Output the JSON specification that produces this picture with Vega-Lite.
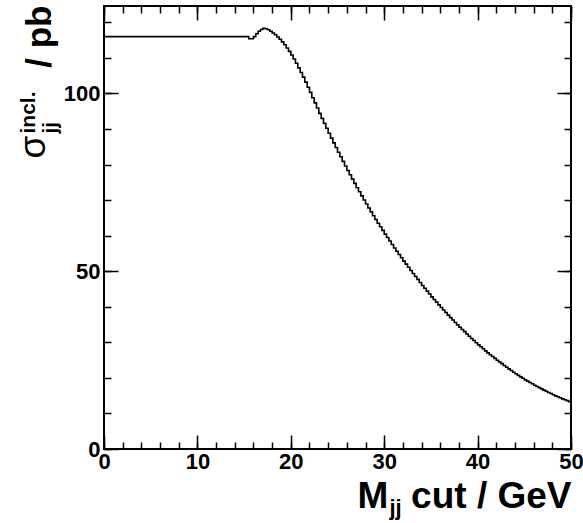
{
  "$schema": "https://vega.github.io/schema/vega-lite/v6.json",
  "width": 467,
  "height": 443,
  "autosize": {"type": "none"},
  "padding": {"left": 104, "top": 6, "right": 12, "bottom": 74},
  "background": "white",
  "config": {
    "view": {"stroke": "black", "strokeWidth": 2},
    "axis": {
      "grid": false,
      "domain": false,
      "tickColor": "black",
      "tickWidth": 1.5,
      "labelFont": "Liberation Sans",
      "labelFontWeight": "bold",
      "labelFontSize": 22,
      "labelColor": "black",
      "titleFont": "Liberation Sans",
      "titleFontWeight": "bold",
      "titleColor": "black",
      "labelFlush": false,
      "labelOverlap": false,
      "labelBound": false
    }
  },
  "data": {
    "values": [
      {"x": 0, "y": 116.0}, {"x": 0.25, "y": 116.0}, {"x": 0.5, "y": 116.0}, {"x": 0.75, "y": 116.0},
      {"x": 1, "y": 116.0}, {"x": 1.25, "y": 116.0}, {"x": 1.5, "y": 116.0}, {"x": 1.75, "y": 116.0},
      {"x": 2, "y": 116.0}, {"x": 2.25, "y": 116.0}, {"x": 2.5, "y": 116.0}, {"x": 2.75, "y": 116.0},
      {"x": 3, "y": 116.0}, {"x": 3.25, "y": 116.0}, {"x": 3.5, "y": 116.0}, {"x": 3.75, "y": 116.0},
      {"x": 4, "y": 116.0}, {"x": 4.25, "y": 116.0}, {"x": 4.5, "y": 116.0}, {"x": 4.75, "y": 116.0},
      {"x": 5, "y": 116.0}, {"x": 5.25, "y": 116.0}, {"x": 5.5, "y": 116.0}, {"x": 5.75, "y": 116.0},
      {"x": 6, "y": 116.0}, {"x": 6.25, "y": 116.0}, {"x": 6.5, "y": 116.0}, {"x": 6.75, "y": 116.0},
      {"x": 7, "y": 116.0}, {"x": 7.25, "y": 116.0}, {"x": 7.5, "y": 116.0}, {"x": 7.75, "y": 116.0},
      {"x": 8, "y": 116.0}, {"x": 8.25, "y": 116.0}, {"x": 8.5, "y": 116.0}, {"x": 8.75, "y": 116.0},
      {"x": 9, "y": 116.0}, {"x": 9.25, "y": 116.0}, {"x": 9.5, "y": 116.0}, {"x": 9.75, "y": 116.0},
      {"x": 10, "y": 116.0}, {"x": 10.25, "y": 116.0}, {"x": 10.5, "y": 116.0}, {"x": 10.75, "y": 116.0},
      {"x": 11, "y": 116.0}, {"x": 11.25, "y": 116.0}, {"x": 11.5, "y": 116.0}, {"x": 11.75, "y": 116.0},
      {"x": 12, "y": 116.0}, {"x": 12.25, "y": 116.0}, {"x": 12.5, "y": 116.0}, {"x": 12.75, "y": 116.0},
      {"x": 13, "y": 116.0}, {"x": 13.25, "y": 116.0}, {"x": 13.5, "y": 116.0}, {"x": 13.75, "y": 116.0},
      {"x": 14, "y": 116.0}, {"x": 14.25, "y": 116.0}, {"x": 14.5, "y": 116.0}, {"x": 14.75, "y": 116.0},
      {"x": 15, "y": 116.0}, {"x": 15.25, "y": 116.0}, {"x": 15.5, "y": 115.4}, {"x": 15.75, "y": 115.4},
      {"x": 16, "y": 116.0}, {"x": 16.25, "y": 116.8}, {"x": 16.5, "y": 117.5}, {"x": 16.75, "y": 118.0},
      {"x": 17, "y": 118.3}, {"x": 17.25, "y": 118.2}, {"x": 17.5, "y": 117.9}, {"x": 17.75, "y": 117.5},
      {"x": 18, "y": 117.0}, {"x": 18.25, "y": 116.5}, {"x": 18.5, "y": 115.9}, {"x": 18.75, "y": 115.25},
      {"x": 19, "y": 114.5}, {"x": 19.25, "y": 113.7}, {"x": 19.5, "y": 112.8}, {"x": 19.75, "y": 111.85},
      {"x": 20, "y": 110.8}, {"x": 20.25, "y": 109.7}, {"x": 20.5, "y": 108.5}, {"x": 20.75, "y": 107.2},
      {"x": 21, "y": 105.9}, {"x": 21.25, "y": 104.6}, {"x": 21.5, "y": 103.2}, {"x": 21.75, "y": 101.75},
      {"x": 22, "y": 100.3}, {"x": 22.25, "y": 98.8}, {"x": 22.5, "y": 97.35}, {"x": 22.75, "y": 95.9},
      {"x": 23, "y": 94.4}, {"x": 23.25, "y": 93.0}, {"x": 23.5, "y": 91.6}, {"x": 23.75, "y": 90.2},
      {"x": 24, "y": 88.8}, {"x": 24.25, "y": 87.45}, {"x": 24.5, "y": 86.1}, {"x": 24.75, "y": 84.8},
      {"x": 25, "y": 83.45}, {"x": 25.25, "y": 82.2}, {"x": 25.5, "y": 80.9}, {"x": 25.75, "y": 79.6},
      {"x": 26, "y": 78.35}, {"x": 26.25, "y": 77.15}, {"x": 26.5, "y": 75.9}, {"x": 26.75, "y": 74.7},
      {"x": 27, "y": 73.5}, {"x": 27.25, "y": 72.35}, {"x": 27.5, "y": 71.2}, {"x": 27.75, "y": 70.05},
      {"x": 28, "y": 68.9}, {"x": 28.25, "y": 67.8}, {"x": 28.5, "y": 66.7}, {"x": 28.75, "y": 65.6},
      {"x": 29, "y": 64.55}, {"x": 29.25, "y": 63.5}, {"x": 29.5, "y": 62.5}, {"x": 29.75, "y": 61.5},
      {"x": 30, "y": 60.45}, {"x": 30.25, "y": 59.5}, {"x": 30.5, "y": 58.5}, {"x": 30.75, "y": 57.5},
      {"x": 31, "y": 56.55}, {"x": 31.25, "y": 55.6}, {"x": 31.5, "y": 54.7}, {"x": 31.75, "y": 53.8},
      {"x": 32, "y": 52.85}, {"x": 32.25, "y": 52.0}, {"x": 32.5, "y": 51.1}, {"x": 32.75, "y": 50.2},
      {"x": 33, "y": 49.35}, {"x": 33.25, "y": 48.5}, {"x": 33.5, "y": 47.7}, {"x": 33.75, "y": 46.85},
      {"x": 34, "y": 46.0}, {"x": 34.25, "y": 45.2}, {"x": 34.5, "y": 44.4}, {"x": 34.75, "y": 43.6},
      {"x": 35, "y": 42.8}, {"x": 35.25, "y": 42.05}, {"x": 35.5, "y": 41.3}, {"x": 35.75, "y": 40.55},
      {"x": 36, "y": 39.8}, {"x": 36.25, "y": 39.1}, {"x": 36.5, "y": 38.4}, {"x": 36.75, "y": 37.65},
      {"x": 37, "y": 36.95}, {"x": 37.25, "y": 36.3}, {"x": 37.5, "y": 35.6}, {"x": 37.75, "y": 34.9},
      {"x": 38, "y": 34.25}, {"x": 38.25, "y": 33.6}, {"x": 38.5, "y": 33.0}, {"x": 38.75, "y": 32.35},
      {"x": 39, "y": 31.7}, {"x": 39.25, "y": 31.1}, {"x": 39.5, "y": 30.5}, {"x": 39.75, "y": 29.9},
      {"x": 40, "y": 29.3}, {"x": 40.25, "y": 28.75}, {"x": 40.5, "y": 28.2}, {"x": 40.75, "y": 27.6},
      {"x": 41, "y": 27.05}, {"x": 41.25, "y": 26.5}, {"x": 41.5, "y": 26.0}, {"x": 41.75, "y": 25.5},
      {"x": 42, "y": 24.95}, {"x": 42.25, "y": 24.45}, {"x": 42.5, "y": 24.0}, {"x": 42.75, "y": 23.5},
      {"x": 43, "y": 23.0}, {"x": 43.25, "y": 22.55}, {"x": 43.5, "y": 22.1}, {"x": 43.75, "y": 21.6},
      {"x": 44, "y": 21.15}, {"x": 44.25, "y": 20.7}, {"x": 44.5, "y": 20.3}, {"x": 44.75, "y": 19.9},
      {"x": 45, "y": 19.45}, {"x": 45.25, "y": 19.1}, {"x": 45.5, "y": 18.7}, {"x": 45.75, "y": 18.35},
      {"x": 46, "y": 17.95}, {"x": 46.25, "y": 17.6}, {"x": 46.5, "y": 17.25}, {"x": 46.75, "y": 16.9},
      {"x": 47, "y": 16.55}, {"x": 47.25, "y": 16.25}, {"x": 47.5, "y": 15.9}, {"x": 47.75, "y": 15.6},
      {"x": 48, "y": 15.25}, {"x": 48.25, "y": 14.95}, {"x": 48.5, "y": 14.7}, {"x": 48.75, "y": 14.4},
      {"x": 49, "y": 14.1}, {"x": 49.25, "y": 13.85}, {"x": 49.5, "y": 13.6}, {"x": 49.75, "y": 13.3},
      {"x": 50, "y": 13.3}
    ]
  },
  "resolve": {"axis": {"x": "independent", "y": "independent"}},
  "layer": [
    {
      "mark": {"type": "line", "interpolate": "step-after", "color": "black", "strokeWidth": 1.6},
      "encoding": {
        "x": {"field": "x", "type": "quantitative", "scale": {"domain": [0, 50], "nice": false, "zero": false},
          "axis": {"orient": "bottom", "values": [0, 10, 20, 30, 40, 50], "tickSize": -14, "labelPadding": 16,
            "title": "M", "titleFontSize": 37, "titleX": 253, "titleY": 58, "titleAlign": "left", "titleBaseline": "alphabetic"}},
        "y": {"field": "y", "type": "quantitative", "scale": {"domain": [0, 124.6], "nice": false},
          "axis": {"orient": "left", "values": [0, 50, 100], "tickSize": -14, "labelPadding": 18,
            "title": "σ", "titleFontSize": 37, "titleFontWeight": "normal", "titleAngle": 270, "titleX": -60, "titleY": 152, "titleAlign": "left", "titleBaseline": "alphabetic"}}
      }
    },
    {
      "mark": {"type": "line", "opacity": 0},
      "encoding": {
        "x": {"field": "x", "type": "quantitative", "scale": {"domain": [0, 50], "nice": false, "zero": false},
          "axis": {"orient": "bottom", "values": [0, 2, 4, 6, 8, 10, 12, 14, 16, 18, 20, 22, 24, 26, 28, 30, 32, 34, 36, 38, 40, 42, 44, 46, 48, 50], "tickSize": -7, "labels": false,
            "title": "jj", "titleFontSize": 22, "titleX": 285, "titleY": 65, "titleAlign": "left", "titleBaseline": "alphabetic"}},
        "y": {"field": "y", "type": "quantitative", "scale": {"domain": [0, 124.6], "nice": false},
          "axis": {"orient": "left", "values": [0, 10, 20, 30, 40, 50, 60, 70, 80, 90, 100, 110, 120], "tickSize": -7, "labels": false,
            "title": "incl.", "titleFontSize": 21, "titleAngle": 270, "titleX": -70, "titleY": 127, "titleAlign": "left", "titleBaseline": "alphabetic"}}
      }
    },
    {
      "mark": {"type": "line", "opacity": 0},
      "encoding": {
        "x": {"field": "x", "type": "quantitative", "scale": {"domain": [0, 50], "nice": false, "zero": false},
          "axis": {"orient": "bottom", "ticks": false, "labels": false,
            "title": "cut / GeV", "titleFontSize": 37, "titleX": 467, "titleY": 58, "titleAlign": "right", "titleBaseline": "alphabetic"}},
        "y": {"field": "y", "type": "quantitative", "scale": {"domain": [0, 124.6], "nice": false},
          "axis": {"orient": "left", "ticks": false, "labels": false,
            "title": "jj", "titleFontSize": 21, "titleAngle": 270, "titleX": -48, "titleY": 127, "titleAlign": "left", "titleBaseline": "alphabetic"}}
      }
    },
    {
      "mark": {"type": "line", "opacity": 0},
      "encoding": {
        "x": {"field": "x", "type": "quantitative", "scale": {"domain": [0, 50], "nice": false, "zero": false},
          "axis": {"orient": "top", "values": [0, 10, 20, 30, 40, 50], "tickSize": -14, "labels": false, "title": null}},
        "y": {"field": "y", "type": "quantitative", "scale": {"domain": [0, 124.6], "nice": false},
          "axis": {"orient": "left", "ticks": false, "labels": false,
            "title": "/ pb", "titleFontSize": 35, "titleAngle": 270, "titleX": -54, "titleY": -1, "titleAlign": "right", "titleBaseline": "alphabetic"}}
      }
    },
    {
      "mark": {"type": "line", "opacity": 0},
      "encoding": {
        "x": {"field": "x", "type": "quantitative", "scale": {"domain": [0, 50], "nice": false, "zero": false},
          "axis": {"orient": "top", "values": [0, 2, 4, 6, 8, 10, 12, 14, 16, 18, 20, 22, 24, 26, 28, 30, 32, 34, 36, 38, 40, 42, 44, 46, 48, 50], "tickSize": -7, "labels": false, "title": null}},
        "y": {"field": "y", "type": "quantitative", "scale": {"domain": [0, 124.6], "nice": false},
          "axis": {"orient": "right", "values": [0, 50, 100], "tickSize": -14, "labels": false, "title": null}}
      }
    },
    {
      "mark": {"type": "line", "opacity": 0},
      "encoding": {
        "x": {"field": "x", "type": "quantitative", "scale": {"domain": [0, 50], "nice": false, "zero": false}, "axis": null},
        "y": {"field": "y", "type": "quantitative", "scale": {"domain": [0, 124.6], "nice": false},
          "axis": {"orient": "right", "values": [0, 10, 20, 30, 40, 50, 60, 70, 80, 90, 100, 110, 120], "tickSize": -7, "labels": false, "title": null}}
      }
    }
  ]
}
